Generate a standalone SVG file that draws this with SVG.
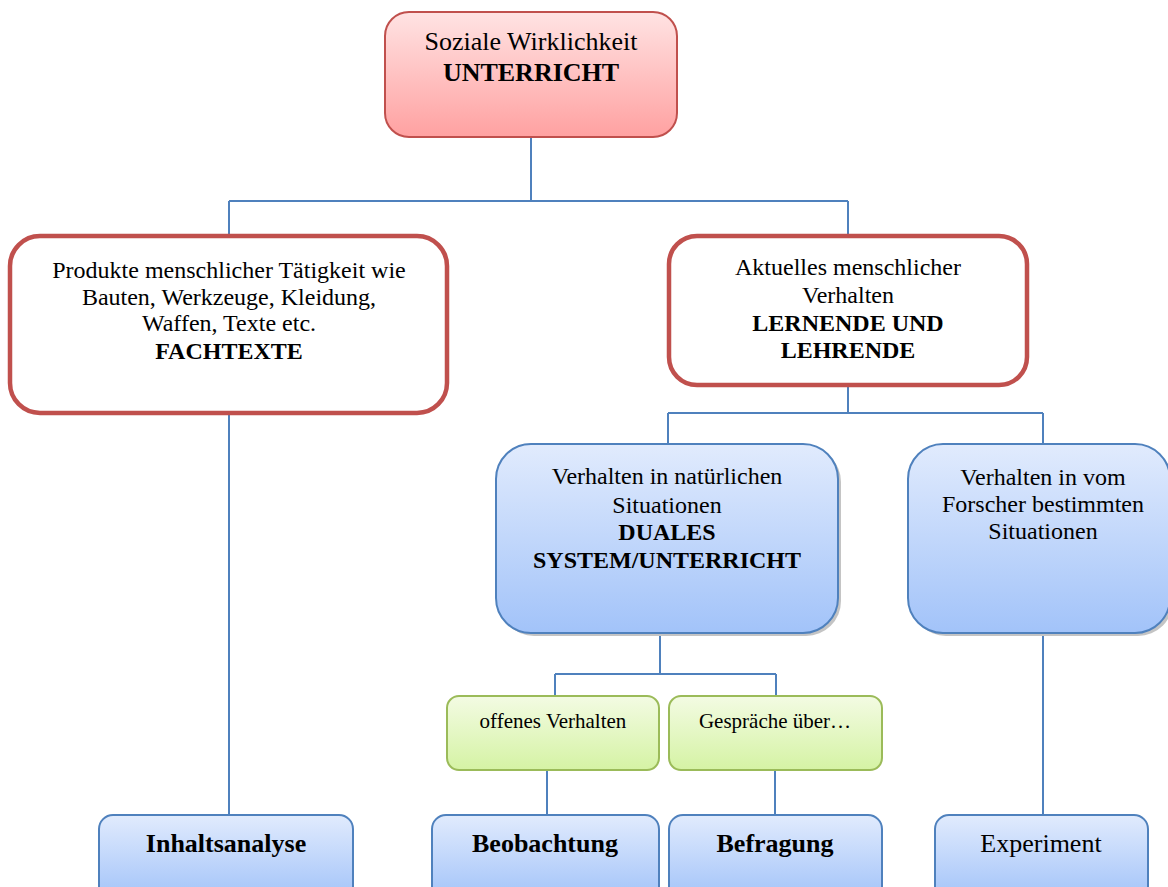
<svg xmlns="http://www.w3.org/2000/svg" width="1168" height="887" viewBox="0 0 1168 887">
<defs>
<linearGradient id="gRed" x1="0" y1="0" x2="0" y2="1"><stop offset="0" stop-color="#ffe3e3"/><stop offset="1" stop-color="#ffa1a1"/></linearGradient>
<linearGradient id="gBlue" x1="0" y1="0" x2="0" y2="1"><stop offset="0" stop-color="#e1ebfd"/><stop offset="1" stop-color="#a2c3f9"/></linearGradient>
<linearGradient id="gGreen" x1="0" y1="0" x2="0" y2="1"><stop offset="0" stop-color="#f3fbe3"/><stop offset="1" stop-color="#d5f3a4"/></linearGradient>
<style>
text{font-family:"Liberation Serif","Times New Roman",serif;fill:#000;text-anchor:middle}
.t24{font-size:24px}
.t26{font-size:26px}
.t20{font-size:21px}
.b{font-weight:bold}
.red{fill:url(#gRed);stroke:#c0504d;stroke-width:2}
.frame{fill:#fff;stroke:#c0504d;stroke-width:4.5}
.blue{fill:url(#gBlue);stroke:#4f81bd;stroke-width:2}
.green{fill:url(#gGreen);stroke:#9bbb59;stroke-width:2}
.shadow{fill:#c4c4c4}
.conn{fill:none;stroke:#4f81bd;stroke-width:2}
</style>
</defs>
<g id="connectors">
<path class="conn" d="M531,137 V201 M229,201 H848 M229,201 V235 M848,201 V235"/>
<path class="conn" d="M229,414 V815"/>
<path class="conn" d="M848,386 V413 M668,413 H1043 M668,413 V444 M1043,413 V444"/>
<path class="conn" d="M660,633 V674 M555,674 H776 M555,674 V696 M776,674 V696"/>
<path class="conn" d="M547,770 V815 M775,770 V815"/>
<path class="conn" d="M1043,633 V815"/>
</g>
<g id="node-soziale">
<rect class="red" x="385" y="12" width="292" height="125" rx="24"/>
<text class="t26" x="531" y="50">Soziale Wirklichkeit</text>
<text class="t26 b" x="531" y="81">UNTERRICHT</text>
</g>
<g id="node-produkte">
<rect class="frame" x="10" y="236" width="437" height="177" rx="30"/>
<text class="t24" x="229" y="278">Produkte menschlicher Tätigkeit wie</text>
<text class="t24" x="229" y="305">Bauten, Werkzeuge, Kleidung,</text>
<text class="t24" x="229" y="331">Waffen, Texte etc.</text>
<text class="t24 b" x="229" y="359">FACHTEXTE</text>
</g>
<g id="node-aktuelles">
<rect class="frame" x="669" y="236" width="358" height="149" rx="28"/>
<text class="t24" x="848" y="275">Aktuelles menschlicher</text>
<text class="t24" x="848" y="303">Verhalten</text>
<text class="t24 b" x="848" y="331">LERNENDE UND</text>
<text class="t24 b" x="848" y="358">LEHRENDE</text>
</g>
<g id="node-natuerlich">
<rect class="shadow" x="499" y="447" width="342" height="189" rx="35"/>
<rect class="blue" x="496" y="444" width="342" height="189" rx="35"/>
<text class="t24" x="667" y="484">Verhalten in natürlichen</text>
<text class="t24" x="667" y="513">Situationen</text>
<text class="t24 b" x="667" y="540">DUALES</text>
<text class="t24 b" x="667" y="568">SYSTEM/UNTERRICHT</text>
</g>
<g id="node-forscher">
<rect class="shadow" x="911" y="447" width="262" height="189" rx="35"/>
<rect class="blue" x="908" y="444" width="262" height="189" rx="35"/>
<text class="t24" x="1043" y="485">Verhalten in vom</text>
<text class="t24" x="1043" y="512">Forscher bestimmten</text>
<text class="t24" x="1043" y="539">Situationen</text>
</g>
<g id="node-offenes">
<rect class="green" x="447" y="696" width="212" height="74" rx="12"/>
<text class="t20" x="553" y="728">offenes Verhalten</text>
</g>
<g id="node-gespraeche">
<rect class="green" x="669" y="696" width="213" height="74" rx="12"/>
<text class="t20" x="775" y="728">Gespräche über…</text>
</g>
<g id="node-inhaltsanalyse">
<rect class="blue" x="99" y="815" width="254" height="85" rx="14"/>
<text class="t26 b" x="226" y="852">Inhaltsanalyse</text>
</g>
<g id="node-beobachtung">
<rect class="blue" x="432" y="815" width="227" height="85" rx="14"/>
<text class="t26 b" x="545" y="852">Beobachtung</text>
</g>
<g id="node-befragung">
<rect class="blue" x="669" y="815" width="213" height="85" rx="14"/>
<text class="t26 b" x="775" y="852">Befragung</text>
</g>
<g id="node-experiment">
<rect class="blue" x="935" y="815" width="213" height="85" rx="14"/>
<text class="t26" x="1041" y="852">Experiment</text>
</g>
</svg>
